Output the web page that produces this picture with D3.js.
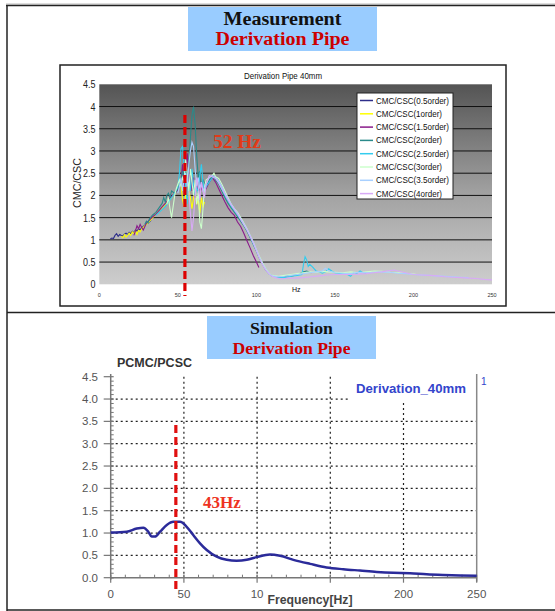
<!DOCTYPE html>
<html>
<head>
<meta charset="utf-8">
<script src="https://cdn.jsdelivr.net/npm/d3@7"></script>
<style>
  body { margin: 0; background: #fff; }
  svg { display: block; }
</style>
</head>
<body>
<div id="viz"><svg></svg></div>
<script>
// ---- data: measurement (one freq list + one value list per order) ----
const seriesNames = ['0.5', '1', '1.5', '2', '2.5', '3', '3.5', '4']
const seriesColors = ['#2e2e8a', '#ffff00', '#8a1a8a', '#2a8a8a', '#33ccee', '#ccffcc', '#a8d0ff', '#d8aaf6']

const f05 = [7, 8, 9, 10, 11, 12, 13, 14, 15, 16, 17, 18, 19, 20, 21, 22, 23, 24, 25, 26, 27, 28, 29, 30, 31, 32, 33]
const v05 = [1.02, 1.04, 1.03, 1.10, 1.14, 1.08, 1.12, 1.10, 1.09, 1.13, 1.15, 1.12, 1.17, 1.14, 1.19, 1.16, 1.22, 1.20, 1.25, 1.22, 1.28, 1.30, 1.33, 1.36, 1.38, 1.41, 1.44]

const f1 = [14, 15, 16, 17, 18, 19, 20, 21, 22, 23, 24, 25, 26, 27, 28, 29, 30, 32, 34, 36, 38, 40, 42, 44, 46, 48, 50, 51, 52, 53, 54, 55, 56, 57, 58, 59, 60, 61, 62, 63, 64, 65, 66, 67]
const v1 = [1.08, 1.05, 1.12, 1.06, 1.10, 1.15, 1.10, 1.18, 1.14, 1.20, 1.12, 1.22, 1.18, 1.25, 1.28, 1.32, 1.35, 1.42, 1.50, 1.58, 1.65, 1.72, 1.80, 1.88, 1.95, 2.05, 2.15, 2.30, 2.25, 1.90, 1.75, 2.05, 1.85, 2.10, 1.95, 1.70, 1.95, 2.05, 1.80, 1.90, 1.60, 1.95, 1.75, 1.85]

const f15 = [22, 23, 24, 25, 26, 27, 28, 29, 30, 32, 34, 36, 38, 40, 42, 44, 46, 48, 50, 52, 53, 54, 55, 56, 57, 58, 59, 60, 61, 62, 63, 64, 65, 66, 68, 70, 72, 74, 76, 78, 80, 82, 84, 86, 88, 90, 92, 94, 96, 98, 100, 101.6]
const v15 = [1.10, 1.20, 1.32, 1.25, 1.35, 1.28, 1.22, 1.30, 1.38, 1.45, 1.52, 1.58, 1.66, 1.74, 1.82, 1.90, 1.98, 2.05, 2.12, 2.30, 2.70, 2.20, 2.55, 2.95, 2.30, 2.60, 2.10, 2.40, 1.95, 2.25, 2.05, 2.35, 2.15, 2.25, 2.15, 2.30, 2.40, 2.30, 2.15, 2.00, 1.85, 1.72, 1.62, 1.55, 1.40, 1.30, 1.15, 0.98, 0.82, 0.65, 0.50, 0.38]

const f2 = [29, 30, 31, 32, 34, 36, 38, 40, 41, 42, 43, 44, 45, 46, 48, 50, 52, 53, 54, 55, 56, 57, 58, 59, 60, 61, 62, 63, 64, 65, 66, 68, 70, 72, 74, 76, 78, 80, 82, 84, 86, 88, 90, 92, 94, 96, 98, 100, 102, 104, 106, 108, 110, 112, 114, 116, 118, 120, 122, 124, 126, 128, 130, 132, 134, 135]
const v2 = [1.35, 1.42, 1.38, 1.48, 1.56, 1.62, 1.72, 1.82, 1.95, 1.85, 2.00, 2.05, 1.95, 2.10, 2.05, 2.15, 2.35, 2.55, 2.40, 2.60, 2.30, 2.75, 3.30, 3.80, 4.00, 3.60, 2.90, 2.40, 2.55, 2.20, 2.35, 2.20, 2.35, 2.45, 2.35, 2.25, 2.10, 1.95, 1.82, 1.72, 1.62, 1.52, 1.42, 1.32, 1.20, 1.05, 0.90, 0.75, 0.58, 0.45, 0.32, 0.24, 0.20, 0.18, 0.17, 0.16, 0.17, 0.19, 0.18, 0.20, 0.22, 0.25, 0.28, 0.30, 0.27, 0.26]

const f25 = [36, 38, 40, 42, 44, 46, 48, 50, 51, 52, 53, 54, 55, 56, 57, 58, 59, 60, 61, 62, 63, 64, 65, 66, 67, 68, 70, 72, 74, 76, 78, 80, 82, 84, 86, 88, 90, 92, 94, 96, 98, 100, 102, 104, 106, 108, 110, 114, 118, 122, 126, 129, 130, 131, 132, 133, 134, 136, 138, 140, 142, 144, 146, 148, 150, 154, 158, 160, 162, 164, 166, 168, 170]
const v25 = [1.55, 1.62, 1.68, 1.75, 1.85, 1.95, 2.05, 2.20, 2.50, 3.05, 3.10, 2.60, 2.20, 1.80, 2.30, 2.10, 2.60, 2.25, 2.00, 2.20, 2.05, 2.45, 2.70, 2.30, 2.10, 2.20, 2.30, 2.40, 2.42, 2.30, 2.15, 2.00, 1.88, 1.76, 1.66, 1.56, 1.46, 1.34, 1.22, 1.08, 0.92, 0.76, 0.60, 0.46, 0.34, 0.24, 0.18, 0.16, 0.15, 0.18, 0.20, 0.22, 0.45, 0.62, 0.55, 0.40, 0.45, 0.38, 0.30, 0.28, 0.25, 0.28, 0.35, 0.30, 0.26, 0.24, 0.22, 0.18, 0.27, 0.24, 0.30, 0.26, 0.25]

const f3 = [43, 44, 45, 46, 47, 48, 49, 50, 51, 52, 53, 54, 55, 56, 57, 58, 59, 60, 61, 62, 63, 64, 65, 66, 67, 68, 70, 72, 73, 74, 76, 78, 80, 82, 84, 86, 88, 90, 92, 94, 96, 98, 100, 102, 104, 106, 108, 110, 114, 118, 122, 126, 130, 134, 138, 142, 146, 150, 155, 160, 165, 170, 175, 180, 185, 190, 195, 200, 202]
const v3 = [1.80, 1.95, 1.70, 1.50, 1.75, 2.00, 2.15, 2.25, 2.35, 2.20, 2.40, 2.30, 2.80, 2.50, 2.10, 2.60, 2.30, 2.00, 2.35, 1.80, 2.10, 1.40, 1.25, 1.70, 2.20, 2.35, 2.40, 2.45, 2.50, 2.42, 2.38, 2.25, 2.10, 1.95, 1.80, 1.70, 1.62, 1.50, 1.38, 1.25, 1.10, 0.95, 0.78, 0.62, 0.48, 0.35, 0.25, 0.20, 0.18, 0.20, 0.22, 0.24, 0.26, 0.28, 0.27, 0.29, 0.28, 0.27, 0.26, 0.28, 0.26, 0.28, 0.30, 0.29, 0.27, 0.26, 0.25, 0.23, 0.22]

const f35 = [50, 51, 52, 53, 54, 55, 56, 57, 58, 59, 60, 61, 62, 63, 64, 65, 66, 68, 70, 72, 74, 76, 78, 80, 82, 84, 86, 88, 90, 92, 94, 96, 98, 100, 102, 104, 106, 108, 110, 114, 118, 122, 126, 130, 134, 138, 142, 144, 146, 150, 155, 160, 165, 170, 175, 180, 185, 190, 195, 200, 205, 210, 215, 220, 225, 230, 235]
const v35 = [2.05, 2.20, 2.40, 2.10, 2.35, 2.50, 2.20, 2.70, 3.00, 3.20, 3.10, 2.60, 2.20, 2.40, 2.15, 2.30, 2.10, 2.25, 2.40, 2.45, 2.40, 2.32, 2.20, 2.05, 1.92, 1.80, 1.70, 1.60, 1.48, 1.36, 1.24, 1.10, 0.95, 0.78, 0.60, 0.45, 0.33, 0.24, 0.19, 0.17, 0.18, 0.20, 0.22, 0.24, 0.26, 0.28, 0.30, 0.36, 0.30, 0.26, 0.25, 0.24, 0.27, 0.26, 0.27, 0.28, 0.27, 0.25, 0.24, 0.22, 0.21, 0.20, 0.19, 0.18, 0.17, 0.16, 0.15]

const f4 = [57, 58, 59, 60, 61, 62, 63, 64, 65, 66, 67, 68, 69, 70, 72, 74, 76, 78, 80, 82, 84, 86, 88, 90, 92, 94, 96, 98, 100, 102, 104, 106, 108, 110, 112, 114, 116, 118, 120, 125, 130, 135, 140, 145, 150, 155, 160, 165, 170, 175, 180, 185, 188, 190, 195, 200, 205, 210, 215, 220, 225, 230, 235, 240, 245, 250]
const v4 = [2.10, 1.60, 1.20, 1.50, 2.00, 2.40, 2.20, 1.90, 2.30, 2.10, 1.95, 2.25, 2.35, 2.45, 2.42, 2.38, 2.28, 2.15, 2.02, 1.90, 1.78, 1.68, 1.58, 1.46, 1.34, 1.22, 1.08, 0.93, 0.76, 0.58, 0.44, 0.32, 0.24, 0.18, 0.15, 0.13, 0.12, 0.13, 0.14, 0.14, 0.15, 0.17, 0.19, 0.21, 0.22, 0.22, 0.22, 0.23, 0.24, 0.26, 0.28, 0.31, 0.32, 0.30, 0.26, 0.22, 0.21, 0.20, 0.19, 0.17, 0.16, 0.15, 0.14, 0.13, 0.11, 0.10]

const measFreqs = [f05, f1, f15, f2, f25, f3, f35, f4]
const measValues = [v05, v1, v15, v2, v25, v3, v35, v4]
const measPeakHz = 54.5

// ---- data: simulation ----
const simFreq = [0, 10.9, 17.8, 22.3, 25.7, 28, 30.3, 33.7, 38.3, 42.8, 47.4, 51.9, 56.5, 61, 65.6, 72.4, 79.2, 86, 92.9, 99.7, 108.8, 115.7, 124.8, 136.2, 147.5, 158.9, 170.3, 181.7, 193, 204.5, 215.8, 227.2, 238.6, 250]
const simValue = [1.01, 1.03, 1.10, 1.12, 1.03, 0.92, 0.92, 1.03, 1.18, 1.25, 1.25, 1.14, 0.95, 0.77, 0.62, 0.47, 0.40, 0.38, 0.40, 0.46, 0.52, 0.49, 0.40, 0.31, 0.23, 0.19, 0.16, 0.13, 0.11, 0.10, 0.075, 0.06, 0.05, 0.045]
const simPeakHz = 44.5

const yTicks = [0, 0.5, 1, 1.5, 2, 2.5, 3, 3.5, 4, 4.5]
const xTicks = [0, 50, 100, 150, 200, 250]
const topYLabels = ['0', '0.5', '1', '1.5', '2', '2.5', '3', '3.5', '4', '4.5']
const botYLabels = ['0.0', '0.5', '1.0', '1.5', '2.0', '2.5', '3.0', '3.5', '4.0', '4.5']
const botXLabels = ['0', '50', '10', '', '200', '250']

const svg = d3.select('#viz svg').attr('width', 555).attr('height', 611)

// ---- outer table frame ----
const frame = svg.append('g')
frame.append('line').attr('x1', 6).attr('x2', 555).attr('y1', 4).attr('y2', 4).attr('stroke', '#bbb').attr('stroke-width', 1)
frame.append('line').attr('x1', 6).attr('x2', 555).attr('y1', 5.5).attr('y2', 5.5).attr('stroke', '#222').attr('stroke-width', 1.5)
frame.append('line').attr('x1', 7).attr('x2', 7).attr('y1', 5).attr('y2', 611).attr('stroke', '#222').attr('stroke-width', 1.5)
frame.append('line').attr('x1', 7).attr('x2', 555).attr('y1', 312.5).attr('y2', 312.5).attr('stroke', '#222').attr('stroke-width', 1.5)
frame.append('line').attr('x1', 7).attr('x2', 555).attr('y1', 610).attr('y2', 610).attr('stroke', '#222').attr('stroke-width', 1.5)

/**
 * Title box with a black line and a red line.
 */
function titleBox (x, y, w, h, lines, size, ys, widths) {
  const g = svg.append('g')
  g.append('rect').attr('x', x).attr('y', y).attr('width', w).attr('height', h).attr('fill', '#99ccff')
  lines.forEach((t, i) => {
    g.append('text').attr('x', x + w / 2).attr('y', ys[i]).attr('text-anchor', 'middle')
      .style('font', `bold ${size}px "Liberation Serif", serif`)
      .attr('fill', i === 0 ? '#111' : '#cc0000')
      .attr('textLength', widths[i]).attr('lengthAdjust', 'spacingAndGlyphs')
      .text(t)
  })
}

titleBox(188, 7, 189, 44, ['Measurement', 'Derivation Pipe'], 18.5, [25, 45], [118, 134])
titleBox(207, 316, 169, 43, ['Simulation', 'Derivation Pipe'], 16, [334, 354], [83, 118])

// ================= top chart (measurement) =================
svg.append('rect').attr('x', 60).attr('y', 65).attr('width', 446).attr('height', 241)
  .attr('fill', '#fff').attr('stroke', '#222').attr('stroke-width', 1.5)

const xTop = d3.scaleLinear().domain([0, 250]).range([99.3, 492])
const yTop = d3.scaleLinear().domain([0, 4.5]).range([284.3, 84.3])

const defs = svg.append('defs')
const grad = defs.append('linearGradient').attr('id', 'bg-grad').attr('x1', 0).attr('x2', 0).attr('y1', 0).attr('y2', 1)
grad.append('stop').attr('offset', '0%').attr('stop-color', '#545454')
grad.append('stop').attr('offset', '55%').attr('stop-color', '#a2a2a2')
grad.append('stop').attr('offset', '100%').attr('stop-color', '#cdcdcd')

const topG = svg.append('g')
topG.append('rect').attr('x', xTop(0)).attr('y', yTop(4.5))
  .attr('width', xTop(250) - xTop(0)).attr('height', yTop(0) - yTop(4.5))
  .attr('fill', 'url(#bg-grad)')

topG.selectAll('line.grid').data(yTicks.slice(1, -1)).join('line')
  .attr('class', 'grid')
  .attr('x1', xTop(0)).attr('x2', xTop(250))
  .attr('y1', d => yTop(d)).attr('y2', d => yTop(d))
  .attr('stroke', '#111').attr('stroke-width', 1)

// narrow labels: squeeze horizontally
topG.selectAll('text.ylab').data(yTicks).join('text')
  .attr('class', 'ylab')
  .attr('transform', d => `translate(95.5,${yTop(d) + 4}) scale(0.78,1)`)
  .attr('text-anchor', 'end')
  .style('font', '11.5px "Liberation Sans", sans-serif')
  .attr('fill', '#222')
  .text((d, i) => topYLabels[i])

topG.selectAll('text.xlab').data(xTicks).join('text')
  .attr('class', 'xlab')
  .attr('x', d => xTop(d)).attr('y', 297)
  .attr('text-anchor', 'middle')
  .style('font', '5.5px "Liberation Sans", sans-serif')
  .attr('fill', '#333')
  .text(d => d)

topG.append('text')
  .attr('transform', 'translate(80.5,183) rotate(-90)')
  .attr('text-anchor', 'middle')
  .style('font', '10px "Liberation Sans", sans-serif')
  .attr('textLength', 50).attr('lengthAdjust', 'spacingAndGlyphs')
  .attr('fill', '#222')
  .text('CMC/CSC')

topG.append('text')
  .attr('x', 283).attr('y', 79)
  .attr('text-anchor', 'middle')
  .style('font', '8.5px "Liberation Sans", sans-serif')
  .attr('textLength', 78).attr('lengthAdjust', 'spacingAndGlyphs')
  .attr('fill', '#111')
  .text('Derivation Pipe 40mm')

const topLine = d3.line().x(d => xTop(d[0])).y(d => yTop(d[1]))
measFreqs.forEach((fs, i) => {
  const pts = fs.map((f, j) => [f, measValues[i][j]])
  topG.append('path').datum(pts)
    .attr('d', topLine)
    .attr('fill', 'none')
    .attr('stroke', seriesColors[i])
    .attr('stroke-width', 1.1)
})

topG.append('text').attr('x', 292).attr('y', 292)
  .style('font', '7px "Liberation Sans", sans-serif').attr('fill', '#111').text('Hz')

// legend
const legG = svg.append('g').attr('transform', 'translate(357,93)')
legG.append('rect').attr('width', 96).attr('height', 106)
  .attr('fill', '#fff').attr('stroke', '#222').attr('stroke-width', 1)
legG.selectAll('g.item').data(seriesNames).join('g')
  .attr('class', 'item')
  .attr('transform', (d, i) => `translate(0,${7.5 + i * 13.3})`)
  .each(function (d, i) {
    const g = d3.select(this)
    g.append('line').attr('x1', 3).attr('x2', 16).attr('y1', 0).attr('y2', 0)
      .attr('stroke', seriesColors[i]).attr('stroke-width', 1.5)
    g.append('text').attr('x', 19).attr('y', 3)
      .style('font', '8.5px "Liberation Sans", sans-serif')
      .attr('textLength', d.length === 1 ? 66 : 73).attr('lengthAdjust', 'spacingAndGlyphs')
      .attr('fill', '#111')
      .text(`CMC/CSC(${d}order)`)
  })

// peak marker
topG.append('line')
  .attr('x1', xTop(measPeakHz)).attr('x2', xTop(measPeakHz))
  .attr('y1', 115).attr('y2', 296)
  .attr('stroke', '#dd0000').attr('stroke-width', 3.2)
  .attr('stroke-dasharray', '8,4')
topG.append('text').attr('x', 213).attr('y', 148)
  .style('font', 'bold 18px "Liberation Serif", serif')
  .attr('textLength', 48).attr('lengthAdjust', 'spacingAndGlyphs')
  .attr('fill', '#e23a18')
  .text('52 Hz')

// ================= bottom chart (simulation) =================
const xBot = d3.scaleLinear().domain([0, 250]).range([110.7, 476.7])
const yBot = d3.scaleLinear().domain([0, 4.5]).range([577.7, 376.7])
const botG = svg.append('g')

// dotted grid
const hGrid = [0.5, 1, 1.5, 2, 2.5, 3, 3.5, 4]
botG.selectAll('line.hgrid').data(hGrid).join('line')
  .attr('class', 'hgrid')
  .attr('x1', xBot(0)).attr('x2', d => d === 4 ? 350 : xBot(250))
  .attr('y1', d => yBot(d)).attr('y2', d => yBot(d))
  .attr('stroke', '#222').attr('stroke-width', 1.2).attr('stroke-dasharray', '2,3')
const vGrid = [50, 100, 150, 200]
botG.selectAll('line.vgrid').data(vGrid).join('line')
  .attr('class', 'vgrid')
  .attr('x1', d => xBot(d)).attr('x2', d => xBot(d))
  .attr('y1', d => d === 200 ? 403 : yBot(4.5)).attr('y2', yBot(0))
  .attr('stroke', '#222').attr('stroke-width', 1.2).attr('stroke-dasharray', '2,3')

// axes
botG.append('line').attr('x1', xBot(0)).attr('x2', xBot(0)).attr('y1', 374).attr('y2', yBot(0) + 2)
  .attr('stroke', '#777').attr('stroke-width', 1.5)
botG.append('line').attr('x1', xBot(250)).attr('x2', xBot(250)).attr('y1', 374).attr('y2', yBot(0) + 4)
  .attr('stroke', '#888').attr('stroke-width', 1.5)
botG.append('line').attr('x1', xBot(0)).attr('x2', xBot(250)).attr('y1', yBot(0)).attr('y2', yBot(0))
  .attr('stroke', '#777').attr('stroke-width', 1.5)

// major + minor ticks
botG.selectAll('line.ymaj').data(yTicks).join('line')
  .attr('class', 'ymaj')
  .attr('x1', xBot(0) - 7).attr('x2', xBot(0) + 3)
  .attr('y1', d => yBot(d)).attr('y2', d => yBot(d))
  .attr('stroke', '#777').attr('stroke-width', 1.2)
botG.selectAll('line.ymin').data(d3.range(0, 4.5, 0.1)).join('line')
  .attr('class', 'ymin')
  .attr('x1', xBot(0)).attr('x2', xBot(0) + 3)
  .attr('y1', d => yBot(d)).attr('y2', d => yBot(d))
  .attr('stroke', '#777').attr('stroke-width', 1)
botG.selectAll('line.xmaj').data(xTicks).join('line')
  .attr('class', 'xmaj')
  .attr('x1', d => xBot(d)).attr('x2', d => xBot(d))
  .attr('y1', yBot(0) - 3).attr('y2', yBot(0) + 5)
  .attr('stroke', '#777').attr('stroke-width', 1.2)
botG.selectAll('line.xmin').data(d3.range(0, 250, 10)).join('line')
  .attr('class', 'xmin')
  .attr('x1', d => xBot(d)).attr('x2', d => xBot(d))
  .attr('y1', yBot(0) - 3).attr('y2', yBot(0))
  .attr('stroke', '#777').attr('stroke-width', 1)

botG.selectAll('text.ylab').data(yTicks).join('text')
  .attr('class', 'ylab')
  .attr('x', 98).attr('y', d => yBot(d) + 4)
  .attr('text-anchor', 'end')
  .style('font', '11.5px "Liberation Sans", sans-serif')
  .attr('fill', '#555')
  .text((d, i) => botYLabels[i])
botG.selectAll('text.xlab').data(xTicks).join('text')
  .attr('class', 'xlab')
  .attr('x', d => xBot(d)).attr('y', 598)
  .attr('text-anchor', 'middle')
  .style('font', '11.5px "Liberation Sans", sans-serif')
  .attr('fill', '#555')
  .text((d, i) => botXLabels[i])

botG.append('text').attr('x', 310).attr('y', 604).attr('text-anchor', 'middle')
  .style('font', 'bold 12px "Liberation Sans", sans-serif').attr('fill', '#444')
  .attr('textLength', 85).attr('lengthAdjust', 'spacingAndGlyphs')
  .text('Frequency[Hz]')
botG.append('text').attr('x', 117).attr('y', 367)
  .style('font', 'bold 12px "Liberation Sans", sans-serif').attr('fill', '#333')
  .attr('textLength', 75).attr('lengthAdjust', 'spacingAndGlyphs')
  .text('PCMC/PCSC')
botG.append('text').attr('x', 356).attr('y', 393)
  .style('font', 'bold 12.5px "Liberation Sans", sans-serif').attr('fill', '#3344cc')
  .attr('textLength', 110).attr('lengthAdjust', 'spacingAndGlyphs')
  .text('Derivation_40mm')
botG.append('text').attr('x', 481).attr('y', 385)
  .style('font', '10px "Liberation Sans", sans-serif').attr('fill', '#3344cc')
  .text('1')

const botLine = d3.line().curve(d3.curveMonotoneX).x(d => xBot(d[0])).y(d => yBot(d[1]))
botG.append('path').datum(simFreq.map((f, i) => [f, simValue[i]]))
  .attr('d', botLine)
  .attr('fill', 'none')
  .attr('stroke', '#2b2b9a')
  .attr('stroke-width', 2.5)

botG.append('line')
  .attr('x1', xBot(simPeakHz)).attr('x2', xBot(simPeakHz))
  .attr('y1', 425).attr('y2', 591)
  .attr('stroke', '#e01010').attr('stroke-width', 3.2)
  .attr('stroke-dasharray', '8,4')
botG.append('text').attr('x', 203).attr('y', 508)
  .style('font', 'bold 17px "Liberation Serif", serif')
  .attr('fill', '#ee3322')
  .text('43Hz')
</script>
</body>
</html>
